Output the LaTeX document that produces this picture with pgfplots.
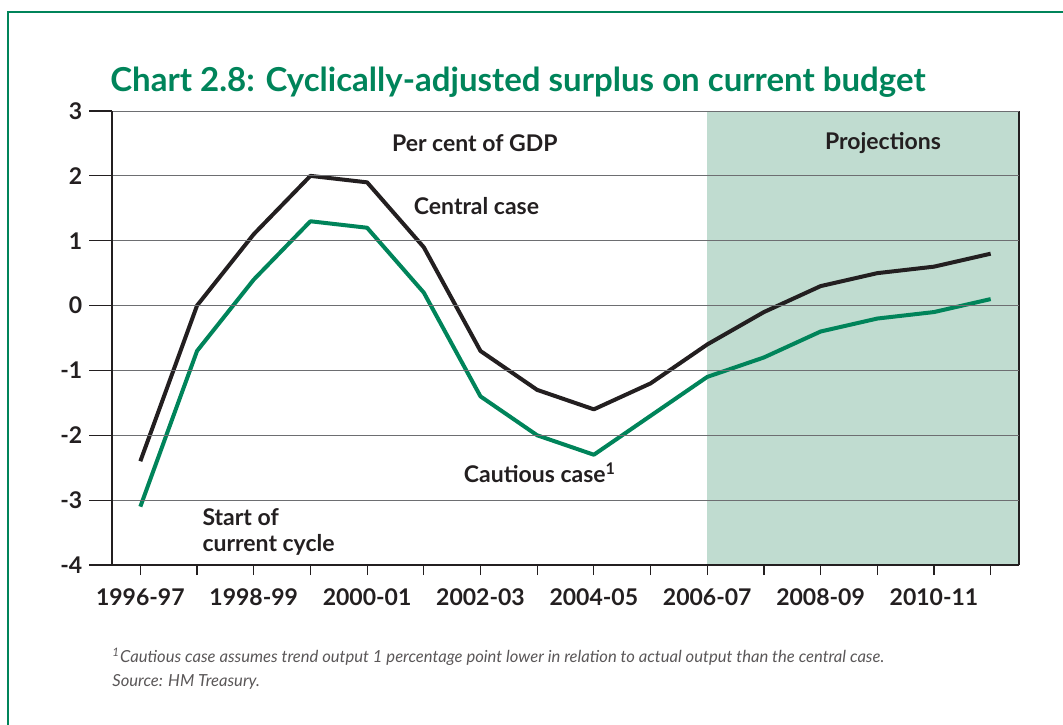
\documentclass[border=0pt]{standalone}
\usepackage{fontspec}
\setmainfont{Lato}
\usepackage{pgfplots}
\pgfplotsset{compat=1.18}
\definecolor{hmgreen}{HTML}{00845A}
\definecolor{projfill}{HTML}{C0DCD0}
\definecolor{ink}{HTML}{231F20}
\definecolor{gridgray}{HTML}{6D6E71}
\begin{document}
\begin{tikzpicture}
\useasboundingbox (0pt,0pt) rectangle (531.5pt,362pt);
\draw[hmgreen, line width=0.8pt] (4pt,-5pt) -- (4pt,356pt) -- (540pt,356pt);
\node[anchor=base west, inner sep=0pt, text=hmgreen] at (55pt,316pt)
  {\resizebox{407.5pt}{!}{\bfseries Chart 2.8: Cyclically-adjusted surplus on current budget}};
\begin{axis}[
  at={(56pt,79.5pt)}, anchor=south west,
  scale only axis, width=453.5pt, height=227pt,
  xmin=-0.5, xmax=15.5, ymin=-4, ymax=3,
  axis lines=left,
  axis line style={-, ink, line width=0.7pt},
  xtick={0,...,15},
  xticklabels={1996-97,,1998-99,,2000-01,,2002-03,,2004-05,,2006-07,,2008-09,,2010-11,},
  ytick={-4,...,3},
  yticklabels={-4,-3,-2,-1,0,1,2,3},
  tick align=outside,
  major tick length=5pt,
  xtick style={ink, line width=0.6pt},
  ytick style={draw=none},
  ymajorgrids,
  axis on top,
  major grid style={gridgray, line width=0.5pt},
  /pgf/number format/assume math mode=true,
  tick label style={font=\bfseries\fontsize{11.5}{11.5}\selectfont, text=ink},
  xticklabel style={yshift=-3.5pt},
  yticklabel style={xshift=-6.3pt},
  clip=false,
]
\addplot[fill=projfill, draw=none] coordinates {(10,-4) (10,3) (15.5,3) (15.5,-4) (10,-4)};
\draw[ink, line width=0.7pt] (axis cs:15.5,-4) -- (axis cs:15.5,3);
\pgfplotsinvokeforeach{-4,-3,-2,-1,0,1,2,3}{
  \draw[ink, line width=0.6pt] (axis cs:-0.5,#1) -- ++(-11.5pt,0pt);
}
\addplot[ink, line width=2pt, line join=round] coordinates {
 (0,-2.4) (1,0.0) (2,1.1) (3,2.0) (4,1.9) (5,0.9) (6,-0.7) (7,-1.3)
 (8,-1.6) (9,-1.2) (10,-0.6) (11,-0.1) (12,0.3) (13,0.5) (14,0.6) (15,0.8)};
\addplot[hmgreen, line width=2pt, line join=round] coordinates {
 (0,-3.1) (1,-0.7) (2,0.4) (3,1.3) (4,1.2) (5,0.2) (6,-1.4) (7,-2.0)
 (8,-2.3) (9,-1.7) (10,-1.1) (11,-0.8) (12,-0.4) (13,-0.2) (14,-0.1) (15,0.1)};
\node[font=\bfseries\fontsize{11.5}{13.5}\selectfont, text=ink, inner sep=0pt] at (axis cs:5.9,2.5) {Per cent of GDP};
\node[font=\bfseries\fontsize{11.5}{13.5}\selectfont, text=ink, inner sep=0pt] at (axis cs:13.1,2.5) {Projections};
\node[font=\bfseries\fontsize{11.5}{13.5}\selectfont, text=ink, inner sep=0pt] at (axis cs:5.93,1.53) {Central case};
\node[font=\bfseries\fontsize{11.5}{13.5}\selectfont, text=ink, inner sep=0pt] at (axis cs:7.05,-2.58) {Cautious case\textsuperscript{1}};
\node[font=\bfseries\fontsize{11.5}{13}\selectfont, text=ink, inner sep=0pt, anchor=west, align=left] at (axis cs:1.09,-3.49) {Start of\\current cycle};
\end{axis}
\node[anchor=base west, inner sep=0pt, align=left, text=ink!75, font=\itshape\fontsize{8.3}{12}\selectfont] at (56pt,19pt)
  {\textsuperscript{1}Cautious case assumes trend output 1 percentage point lower in relation to actual output than the central case.\\Source: HM Treasury.};
\end{tikzpicture}
\end{document}
